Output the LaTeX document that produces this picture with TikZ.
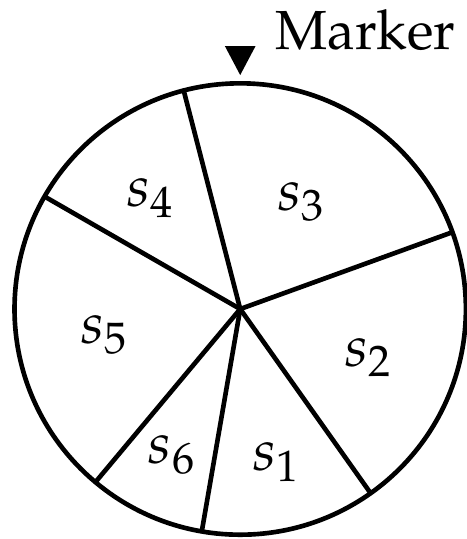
\documentclass[tikz,border=0pt]{standalone}
\usepackage[T1]{fontenc}
\usepackage{amsmath}
\usepackage{mathpazo}
\usepackage{tikz}

\begin{document}
\begin{tikzpicture}[line width=0.8pt,
  lbl/.style={inner sep=0pt,font=\normalsize}]
  \useasboundingbox (-1.456,-1.394) rectangle (1.372,1.873);
  % disc and spokes
  \coordinate (c) at (0,0);
  \draw (c) circle (1.368);
  \coordinate (b1) at (19.9:1.368);
  \coordinate (b2) at (104.5:1.368);
  \coordinate (b3) at (150.1:1.368);
  \coordinate (b4) at (230.1:1.368);
  \coordinate (b5) at (260.2:1.368);
  \coordinate (b6) at (305.3:1.368);
  \draw (c) -- (b1);
  \draw (c) -- (b2);
  \draw (c) -- (b3);
  \draw (c) -- (b4);
  \draw (c) -- (b5);
  \draw (c) -- (b6);
  % sector labels
  \node[lbl] (s3) at (0.373,0.648) {$s_3$};
  \node[lbl] (s4) at (-0.542,0.670) {$s_4$};
  \node[lbl] (s5) at (-0.818,-0.154) {$s_5$};
  \node[lbl] (s2) at (0.782,-0.297) {$s_2$};
  \node[lbl] (s6) at (-0.409,-0.885) {$s_6$};
  \node[lbl] (s1) at (0.224,-0.930) {$s_1$};
  % marker
  \coordinate (m) at (0,1.418);
  \fill (m) -- ++(-0.093,0.176) -- ++(0.186,0) -- cycle;
  \node[lbl,anchor=base west,font=\fontsize{9.5}{11}\selectfont] (marker) at (0.199,1.575) {Marker};
\end{tikzpicture}
\end{document}
